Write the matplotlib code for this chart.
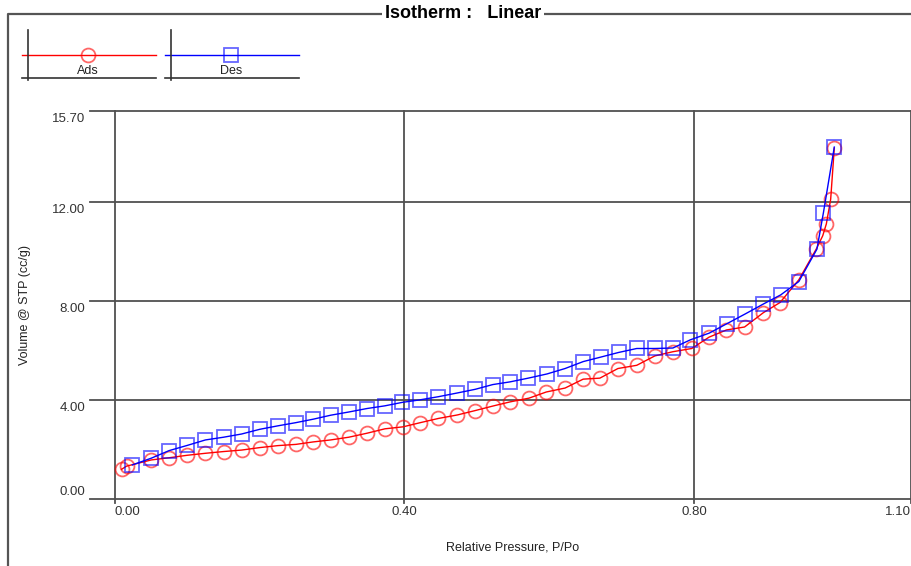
import matplotlib
matplotlib.use("Agg")
import matplotlib.pyplot as plt
from matplotlib.lines import Line2D

plt.rcParams['font.family'] = ['Liberation Sans', 'DejaVu Sans']

# adsorption branch (relative pressure, volume cc/g)
ads_p = [0.009, 0.016, 0.050, 0.075, 0.100, 0.125, 0.150, 0.175, 0.200, 0.225,
         0.250, 0.274, 0.298, 0.323, 0.348, 0.373, 0.398, 0.422, 0.447, 0.473,
         0.498, 0.522, 0.546, 0.572, 0.596, 0.622, 0.647, 0.670, 0.695, 0.721,
         0.746, 0.771, 0.797, 0.821, 0.845, 0.870, 0.896, 0.919, 0.945, 0.969,
         0.978, 0.983, 0.989, 0.994]
ads_v = [1.20, 1.33, 1.58, 1.67, 1.77, 1.85, 1.92, 1.98, 2.08, 2.16,
         2.21, 2.31, 2.39, 2.50, 2.66, 2.84, 2.92, 3.09, 3.26, 3.40,
         3.58, 3.76, 3.93, 4.08, 4.33, 4.49, 4.85, 4.89, 5.28, 5.41,
         5.79, 5.96, 6.09, 6.55, 6.84, 6.96, 7.54, 7.95, 8.87, 10.11,
         10.65, 11.13, 12.13, 14.20]

# desorption branch
des_p = [0.024, 0.050, 0.075, 0.100, 0.125, 0.150, 0.175, 0.200, 0.225, 0.250,
         0.274, 0.298, 0.323, 0.348, 0.373, 0.397, 0.421, 0.447, 0.473, 0.498,
         0.522, 0.546, 0.571, 0.597, 0.622, 0.647, 0.671, 0.696, 0.721, 0.746,
         0.771, 0.795, 0.821, 0.846, 0.871, 0.896, 0.920, 0.945, 0.970, 0.979,
         0.994]
des_v = [1.38, 1.65, 1.96, 2.17, 2.39, 2.50, 2.63, 2.82, 2.96, 3.09,
         3.23, 3.39, 3.52, 3.66, 3.77, 3.91, 4.01, 4.14, 4.29, 4.44,
         4.63, 4.74, 4.89, 5.06, 5.28, 5.56, 5.74, 5.93, 6.09, 6.09,
         6.11, 6.44, 6.71, 7.10, 7.49, 7.89, 8.26, 8.80, 10.11, 11.59,
         14.24]

x_ticks = [0.0, 0.4, 0.8, 1.1]
x_labels = ['0.00', '0.40', '0.80', '1.10']
y_ticks = [0.0, 4.0, 8.0, 12.0, 15.7]
y_labels = ['0.00', '4.00', '8.00', '12.00', '15.70']

W, H = 912, 566
fig = plt.figure(figsize=(W / 100, H / 100), dpi=100)


def fx(x):
    return x / W


def fy(y):
    return 1 - y / H


def fline(xs, ys, **kw):
    fig.add_artist(Line2D([fx(v) for v in xs], [fy(v) for v in ys],
                          transform=fig.transFigure, **kw))


# outer frame with title breaking the top line
fline([8, 8, 912], [566, 14, 14], color='#555555', lw=1.6)
fig.text(fx(463), fy(14), 'Isotherm :   Linear', ha='center', va='center',
         fontsize=13, fontweight='bold',
         bbox=dict(facecolor='white', edgecolor='none', pad=2))

# legend boxes
red_mk = (1, 0, 0, 0.6)
blue_mk = (0, 0, 1, 0.6)
for x0, name, col, mk, mcol in [(22, 'Ads', 'red', 'o', red_mk),
                                (165, 'Des', 'blue', 's', blue_mk)]:
    fline([x0, x0 + 134], [55, 55], color=col, lw=1)
    fline([x0 + 6, x0 + 6], [30, 80], color='#333333', lw=1.2)
    fline([x0, x0 + 134], [77.5, 77.5], color='#333333', lw=1.2)
    fline([x0 + 66], [55], marker=mk, ms=10, mfc='none', mec=mcol, mew=1.3, lw=0)
    fig.text(fx(x0 + 66), fy(70.5), name, ha='center', va='center', fontsize=9, color='#222222')

ax = fig.add_axes([fx(115), fy(499), 796 / W, 388 / H])
ax.set_xlim(0, 1.1)
ax.set_ylim(0, 15.7)
ax.axis('off')

grid_col = '#505050'
for y in y_ticks:
    ax.plot([-0.0345, 1.1], [y, y], color=grid_col, lw=1.3, clip_on=False, zorder=1)
for x in x_ticks:
    ax.plot([x, x], [-0.16, 15.7], color=grid_col, lw=1.3, clip_on=False, zorder=1)

ax.plot(ads_p, ads_v, color='red', lw=1, marker='o', ms=10, mfc='none',
        mec=red_mk, mew=1.3, clip_on=False, zorder=3)
ax.plot(des_p, des_v, color='blue', lw=1, marker='s', ms=10, mfc='none',
        mec=blue_mk, mew=1.3, clip_on=False, zorder=4)

# tick labels
for v, lab in zip(y_ticks, y_labels):
    dy = 5 if v == 0 else -5.4
    ax.annotate(lab, xy=(0, v), xycoords=('axes fraction', 'data'),
                xytext=(-21.6, dy), textcoords='offset points',
                ha='right', va='center', fontsize=9.5, color='#333333')
for i, (v, lab) in enumerate(zip(x_ticks, x_labels)):
    ha = 'left' if i == 0 else ('right' if i == len(x_ticks) - 1 else 'center')
    ax.annotate(lab, xy=(v, 0), xycoords=('data', 'axes fraction'),
                xytext=(0, -9.4), textcoords='offset points',
                ha=ha, va='center', fontsize=9.5, color='#333333')

fig.text(fx(25), fy(305), 'Volume @ STP (cc/g)', rotation=90, ha='center', va='center',
         fontsize=9, color='#222222')
fig.text(fx(513), fy(547), 'Relative Pressure, P/Po', ha='center', va='center',
         fontsize=9, color='#222222')

fig.savefig('out.png', dpi=100)
